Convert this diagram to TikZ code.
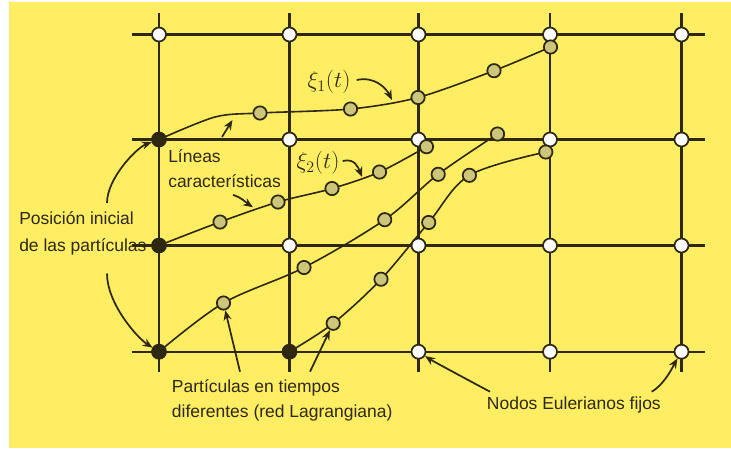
\documentclass[tikz,border=0pt]{standalone}
\usepackage{amsmath,amssymb}
\usepackage{fontspec}
\setmainfont{Liberation Sans}
\usetikzlibrary{arrows.meta, calc}
\usepackage{xcolor}
\definecolor{fondo}{RGB}{255, 238, 100}
\definecolor{tinta}{RGB}{45, 40, 15}
\definecolor{oliva}{RGB}{205, 198, 122}

\begin{document}
\begin{tikzpicture}[x=0.75pt, y=-0.75pt, >={Stealth[length=7.5pt,width=6pt]},
    font=\fontsize{13.1}{18.8}\selectfont, line join=round,
    euler/.style={circle, draw=tinta, fill=white, line width=1.3pt, minimum size=10.5pt, inner sep=0pt},
    inicio/.style={circle, fill=tinta, minimum size=11pt, inner sep=0pt},
    lagr/.style={circle, draw=tinta, fill=oliva, line width=1.3pt, minimum size=10pt, inner sep=0pt},
    malla/.style={tinta, line width=1.6pt},
    linea/.style={tinta, line width=1.2pt},
    flecha/.style={->, tinta, line width=1.3pt},
    texto/.style={text=tinta, align=left, inner sep=0pt}]

    \useasboundingbox (0,0) rectangle (731,450);
    \fill[fondo] (9,2) rectangle (731,448);

    % ==========================================================
    % malla euleriana fija
    % ==========================================================
    \foreach \i/\x in {0/159, 1/289.5, 2/418.5, 3/550, 4/681.5} {
        \coordinate (arr\i) at (\x,13);
        \coordinate (aba\i) at (\x,372);
        \draw[malla] (arr\i) -- (aba\i);
        \foreach \j/\y in {0/34.5, 1/139.5, 2/245.5, 3/351.7}
            \coordinate (g\i\j) at (\x,\y);
    }
    \foreach \j/\y in {0/34.5, 1/139.5, 2/245.5, 3/351.7} {
        \coordinate (izq\j) at (131.7,\y);
        \coordinate (der\j) at (705,\y);
        \draw[malla] (izq\j) -- (der\j);
    }

    % ==========================================================
    % trayectorias de las particulas (red lagrangiana)
    % ==========================================================
    \coordinate (a0) at (g01);
    \coordinate (b0) at (g02);
    \coordinate (c0) at (g03);
    \coordinate (d0) at (g13);
    \foreach \k/\x/\y in {1/260/113, 2/350.5/109, 3/418/97.5, 4/494/70.7, 5/550.5/47}
        \coordinate (a\k) at (\x,\y);
    \foreach \k/\x/\y in {1/220/222, 2/278/202, 3/332/188.5, 4/379.5/172, 5/426.5/146.7}
        \coordinate (b\k) at (\x,\y);
    \foreach \k/\x/\y in {1/223.5/303, 2/304/267.5, 3/384.7/219.7, 4/438.2/174.3, 5/497.5/134}
        \coordinate (c\k) at (\x,\y);
    \foreach \k/\x/\y in {1/333.2/323.3, 2/381/279.2, 3/428.7/222.5, 4/469.4/175.3, 5/545.8/152}
        \coordinate (d\k) at (\x,\y);

    % la primera se aplana antes de la primera particula
    \coordinate (aplano) at (215,117);
    \draw[linea] plot[smooth, tension=0.5] coordinates {(a0) (aplano) (a1) (a2) (a3) (a4) (a5)};
    \foreach \c in {b,c,d}
        \draw[linea] plot[smooth, tension=0.55] coordinates {(\c0) (\c1) (\c2) (\c3) (\c4) (\c5)};

    % nodos fijos, posiciones iniciales y particulas
    \foreach \i in {0,...,4}
        \foreach \j in {0,...,3}
            \node[euler] (n\i\j) at (g\i\j) {};
    \foreach \c in {a,b,c,d}
        \node[inicio] (ini\c) at (\c0) {};
    \foreach \c in {a,b,c,d}
        \foreach \k in {1,...,5}
            \node[lagr] (p\c\k) at (\c\k) {};

    % ==========================================================
    % rotulos y flechas
    % ==========================================================
    \node[texto, font=\fontsize{16.5}{19}\selectfont] (xi1) at (329,82) {$\xi_1(t)$};
    \node[texto, font=\fontsize{16.5}{19}\selectfont] (xi2) at (318,163) {$\xi_2(t)$};
    \node[texto, anchor=west] (lineas) at (168,169) {Líneas\\características};
    \node[texto, anchor=west] (posicion) at (19,233.3) {Posición inicial\\[1.5pt]de las partículas};
    \node[texto, anchor=west] (particulas) at (171.7,400.8) {Partículas en tiempos\\diferentes (red Lagrangiana)};
    \node[texto, anchor=west] (nodos) at (486.7,405) {Nodos Eulerianos fijos};

    \coordinate (fxi1) at (392,100);
    \coordinate (fxi2) at (362,177);
    \draw[flecha] ($(xi1.east)+(6,-2)$) .. controls +(18,-4) and +(-6,-12) .. (fxi1);
    \draw[flecha] ($(xi2.east)+(3,-2)$) .. controls +(12,-3) and +(-4,-10) .. (fxi2);

    \coordinate (slin1) at (222,137);
    \coordinate (flin1) at (232.5,120);
    \coordinate (slin2) at (233,195);
    \coordinate (flin2) at (253,207.3);
    \draw[flecha] (slin1) -- (flin1);
    \draw[flecha] (slin2) .. controls +(8,2) and +(-6,-4) .. (flin2);

    \coordinate (spos1) at (107,203);
    \coordinate (spos2) at (107,273.5);
    \draw[flecha] (spos1) .. controls +(0,-25) and +(-22,8) .. (inia);
    \draw[flecha] (spos2) .. controls +(0,30) and +(-22,-14) .. (inic);

    \coordinate (spar1) at (240,371.7);
    \coordinate (spar2) at (310,371.7);
    \draw[flecha] (spar1) -- (pc1);
    \draw[flecha] (spar2) -- (pd1);

    \coordinate (snod1) at (490,391.7);
    \coordinate (snod2) at (651.7,391.7);
    \draw[flecha] (snod1) .. controls +(-30,-16) and +(12,8) .. (n23);
    \draw[flecha] (snod2) .. controls +(14,-8) and +(-6,10) .. (n43);

\end{tikzpicture}
\end{document}
